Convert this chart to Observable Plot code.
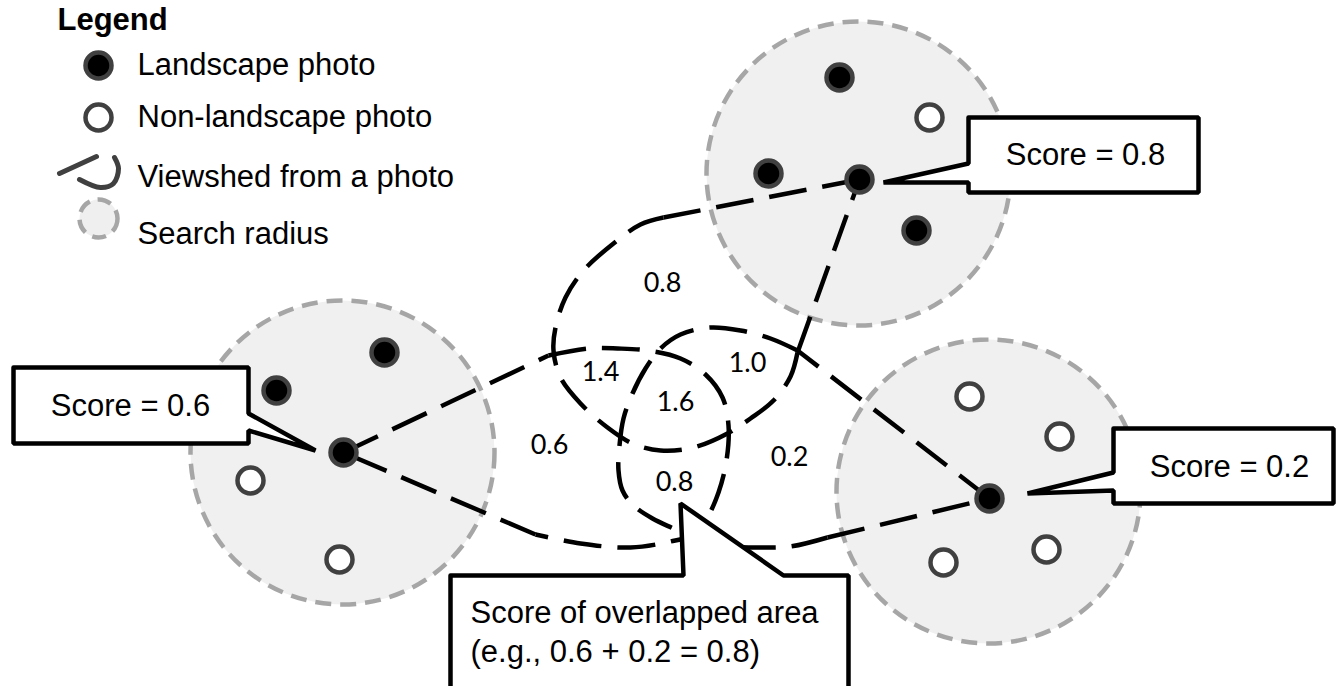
<!DOCTYPE html>
<html><head><meta charset="utf-8">
<script src="https://cdn.jsdelivr.net/npm/d3@7"></script>
<script src="https://cdn.jsdelivr.net/npm/@observablehq/plot@0.6"></script>
<style>html,body{margin:0;padding:0;background:#fff;overflow:hidden}</style>
</head><body><div id="chart"></div>
<script>
// ---- Search radius areas (centres) ----
const searchX = [342, 858, 988];
const searchY = [452, 173, 491];

// ---- Photos ----
const photoX = [384, 276, 343, 250, 339,  839, 929, 768, 859, 916,  969, 1059, 989, 943, 1046];
const photoY = [352, 390, 452, 480, 559,   77, 117, 173, 179, 230,  396,  436, 498, 562,  549];
const photoKind = ["L","L","L","N","N", "L","N","L","L","L", "N","N","L","N","N"];

// ---- Viewsheds: straight rays from the photo and curved outer boundary ----
const leftRays  = [[[343,452],[548,355]], [[535,534],[343,452]]];
const leftArc   = [[548,355],[587,348],[617,348],[647,350],[680,358],[705,374],[722,397],[728,425],[726,460],[718,492],[706,518],[690,535],[670,541],[630,547],[580,543],[535,534]];
const topRays   = [[[859,179],[663,217]], [[797,352],[859,179]]];
const topArc    = [[663,217],[640,224],[613,243],[583,270],[565,297],[555,327],[553,350],[560,377],[580,403],[607,427],[632,443],[660,450],[693,447],[727,433],[750,418],[773,400],[790,376],[797,352]];
const rightRays = [[[989,498],[797,350]], [[827,537],[989,498]]];
const rightArc  = [[797,350],[770,338],[740,330],[710,327],[680,334],[660,348],[645,368],[632,393],[623,418],[619,445],[618,470],[622,490],[633,505],[652,518],[677,530],[700,542],[730,546],[760,547],[790,546],[827,537]];

// ---- Region scores ----
const regionLabels = ["0.8","1.4","1.6","1.0","0.6","0.8","0.2"];
const regionX = [662, 600, 675, 747, 549, 674, 789];
const regionY = [283, 372, 402, 363, 445, 482, 457];

// ---- Callouts ----
const calloutLeft   = [[13,367],[248,367],[248,413],[315,450],[248,430],[248,443],[13,443],[13,367]];
const calloutTop    = [[968,117],[1198,117],[1198,192],[968,192],[968,182],[883,182],[968,163],[968,117]];
const calloutRight  = [[1113,428],[1333,428],[1333,503],[1113,503],[1113,490],[1027,493],[1113,472],[1113,428]];
const calloutBottom = [[450,575],[683,575],[680,503],[783,575],[848,575],[848,700],[450,700],[450,575]];
const scoreText = ["Score = 0.6", "Score = 0.8", "Score = 0.2"];
const scoreX = [130, 1085, 1229];
const scoreY = [406, 155, 467];
const noteLines = ["Score of overlapped area", "(e.g., 0.6 + 0.2 = 0.8)"];
const noteX = [470, 470];
const noteY = [613, 652];

// ---- Legend ----
const legendTitle = "Legend";
const legendLabels = ["Landscape photo", "Non-landscape photo", "Viewshed from a photo", "Search radius"];
const legendTextY = [65, 117, 177, 234];
const legendDotX = [98, 98];
const legendDotY = [65, 117];
const legendDotKind = ["L", "N"];
const legendViewLine = [[59,173],[96,156]];
const legendViewCurve = [[79,179],[100,187],[113,183],[118,168],[114,157]];
const legendSearch = [98, 218];

// ---- build tables ----
const searchAreas = searchX.map((x, i) => ({x, y: searchY[i]}));
const photos = photoX.map((x, i) => ({x, y: photoY[i], kind: photoKind[i]}));
const toPts = (segs, tag) => segs.flatMap((s, j) => s.map(p => ({x: p[0], y: p[1], z: tag + j})));
const rays = [...toPts(leftRays, "l"), ...toPts(topRays, "t"), ...toPts(rightRays, "r")];
const arcs = [...toPts([leftArc], "L"), ...toPts([topArc], "T"), ...toPts([rightArc], "R")];
const callouts = toPts([calloutLeft, calloutTop, calloutRight, calloutBottom], "c");
const regions = regionLabels.map((t, i) => ({t, x: regionX[i], y: regionY[i]}));
const scores = scoreText.map((t, i) => ({t, x: scoreX[i], y: scoreY[i]}));
const notes = noteLines.map((t, i) => ({t, x: noteX[i], y: noteY[i]}));
const legendItems = legendLabels.map((t, i) => ({t, y: legendTextY[i]}));
const legendDots = legendDotX.map((x, i) => ({x, y: legendDotY[i], kind: legendDotKind[i]}));

const sans = "Liberation Sans, Arial, Helvetica, sans-serif";
const dash = "38,16";
const W = 1337, H = 686;

const chart = Plot.plot({
  width: W, height: H,
  margin: 0, marginTop: 0, marginRight: 0, marginBottom: 0, marginLeft: 0,
  x: {domain: [0, W], range: [0, W], axis: null},
  y: {domain: [0, H], range: [0, H], axis: null},
  style: {background: "#ffffff", overflow: "hidden"},
  marks: [
    // search areas
    Plot.dot(searchAreas, {x: "x", y: "y", r: 152, fill: "#f0f0f0", stroke: "#a6a6a6", strokeWidth: 4.5, strokeDasharray: "16,9"}),
    // viewsheds
    Plot.line(arcs, {x: "x", y: "y", z: "z", curve: "catmull-rom", stroke: "#000", strokeWidth: 4.5, strokeDasharray: dash, strokeLinecap: "butt"}),
    Plot.line(rays, {x: "x", y: "y", z: "z", stroke: "#000", strokeWidth: 4.5, strokeDasharray: dash, strokeLinecap: "butt"}),
    // photos
    Plot.dot(photos, {x: "x", y: "y", r: 13, fill: d => d.kind === "L" ? "#000" : "#fff", stroke: "#404040", strokeWidth: 4.5}),
    // region scores
    Plot.text(regions, {x: "x", y: "y", text: "t", fontFamily: "Lato, Open Sans, sans-serif", fontSize: 27, fill: "#000"}),
    // callouts
    Plot.line(callouts, {x: "x", y: "y", z: "z", fill: "#fff", stroke: "#000", strokeWidth: 4.5, strokeLinejoin: "miter"}),
    Plot.text(scores, {x: "x", y: "y", text: "t", fontFamily: sans, fontSize: 31, fill: "#000"}),
    Plot.text(notes, {x: "x", y: "y", text: "t", textAnchor: "start", fontFamily: sans, fontSize: 31, fill: "#000"}),
    // legend
    Plot.text([legendTitle], {x: 57, y: 20, text: d => d, textAnchor: "start", fontFamily: sans, fontSize: 31, fontWeight: "bold", fill: "#000"}),
    Plot.dot(legendDots, {x: "x", y: "y", r: 13, fill: d => d.kind === "L" ? "#000" : "#fff", stroke: "#404040", strokeWidth: 4.5}),
    Plot.line(legendViewLine, {x: d => d[0], y: d => d[1], stroke: "#404040", strokeWidth: 5, strokeLinecap: "round"}),
    Plot.line(legendViewCurve, {x: d => d[0], y: d => d[1], curve: "catmull-rom", stroke: "#404040", strokeWidth: 5, strokeLinecap: "round"}),
    Plot.dot([legendSearch], {x: d => d[0], y: d => d[1], r: 19, fill: "#efefef", stroke: "#a6a6a6", strokeWidth: 4.5, strokeDasharray: "14,8"}),
    Plot.text(legendItems, {x: 137, y: "y", text: "t", textAnchor: "start", fontFamily: sans, fontSize: 31, fill: "#000"})
  ]
});
document.getElementById("chart").appendChild(chart);
</script>
</body></html>
